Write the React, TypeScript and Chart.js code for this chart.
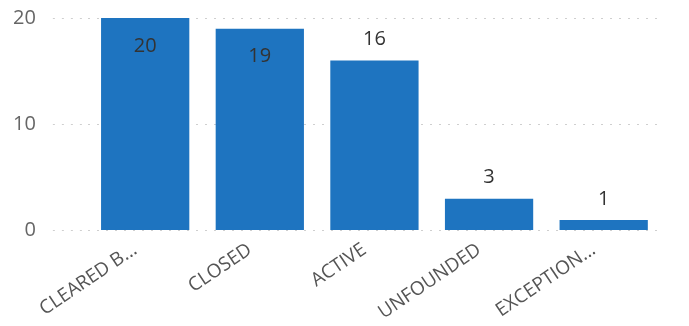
import React, { useEffect, useRef } from "react";
import { Chart, registerables } from "chart.js";

Chart.register(...registerables);

const categories = ["CLEARED B...", "CLOSED", "ACTIVE", "UNFOUNDED", "EXCEPTION..."];
const counts = [20, 19, 16, 3, 1];
const yTicks = [0, 10, 20];

const BAR_COLOR = "#1E74C0";
const FONT = "'Open Sans', 'Noto Sans', sans-serif";

const valueLabels = {
  id: "valueLabels",
  afterDatasetsDraw(chart: any) {
    const ctx = chart.ctx;
    const area = chart.chartArea;
    const meta = chart.getDatasetMeta(0);
    const size = 20;
    ctx.save();
    ctx.font = `${size}px ${FONT}`;
    ctx.fillStyle = "#333333";
    ctx.textAlign = "center";
    ctx.textBaseline = "middle";
    meta.data.forEach((bar: any, i: number) => {
      const v = chart.data.datasets[0].data[i];
      let y = bar.y - 21;
      if (y - size / 2 < area.top) y = bar.y + 28;
      ctx.fillText(String(v), bar.x, y);
    });
    ctx.restore();
  },
};

export default function App() {
  const ref = useRef<HTMLCanvasElement | null>(null);
  useEffect(() => {
    if (!ref.current) return;
    const chart = new Chart(ref.current, {
      type: "bar",
      data: {
        labels: categories,
        datasets: [
          {
            data: counts,
            backgroundColor: BAR_COLOR,
            borderWidth: 0,
            barPercentage: 0.77,
            categoryPercentage: 1,
          },
        ],
      },
      options: {
        animation: false,
        responsive: true,
        maintainAspectRatio: false,
        layout: { padding: { top: 18, right: 28, bottom: 2, left: -4 } },
        plugins: { legend: { display: false }, tooltip: { enabled: false } },
        scales: {
          x: {
            grid: { display: false },
            border: { display: false },
            afterFit: (axis: any) => {
              axis.paddingLeft = 0;
              axis.paddingRight = 0;
            },
            ticks: {
              color: "#555555",
              font: { family: FONT, size: 19 },
              minRotation: 34,
              maxRotation: 34,
              autoSkip: false,
              padding: 0,
              labelOffset: -10,
            },
          },
          y: {
            min: 0,
            max: 20,
            afterBuildTicks: (axis: any) => {
              axis.ticks = yTicks.map((v) => ({ value: v }));
            },
            afterFit: (axis: any) => {
              const p = axis.options.ticks.padding;
              axis.paddingTop = Math.max(axis.paddingTop - p, 0);
              axis.paddingBottom = Math.max(axis.paddingBottom - p, 0);
            },
            border: { display: false, dash: [2, 7] },
            grid: {
              color: "#cfcfcf",
              lineWidth: 1,
              tickLength: 35,
              tickColor: "#cfcfcf",
              tickBorderDash: [2, 7],
            },
            ticks: {
              color: "#666666",
              font: { family: FONT, size: 20 },
              padding: 17,
            },
          },
        },
      },
      plugins: [valueLabels],
    });
    return () => chart.destroy();
  }, []);
  return (
    <div style={{ position: "fixed", left: 0, top: 0, width: 689, height: 326, background: "#fff" }}>
      <canvas ref={ref} />
    </div>
  );
}
